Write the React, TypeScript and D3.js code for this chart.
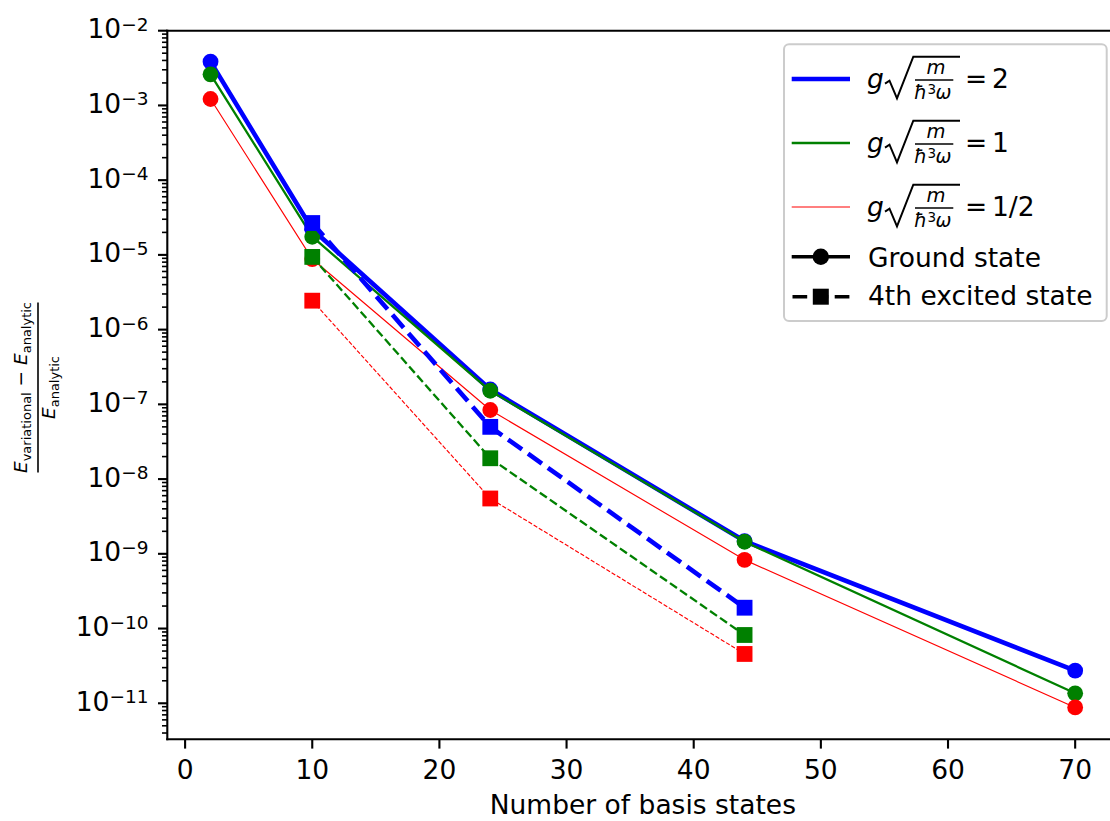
import React from "react";
import * as d3 from "d3";

const W = 1110;
const H = 821;

// Data
const xsGround = [2, 10, 24, 44, 70];
const xsExcited = [10, 24, 44];
const groundBlue = [3.85e-3, 2.2e-5, 1.58e-7, 1.48e-9, 2.73e-11];
const groundGreen = [2.61e-3, 1.75e-5, 1.52e-7, 1.45e-9, 1.36e-11];
const groundRed = [1.22e-3, 8.8e-6, 8.4e-8, 8.3e-10, 8.8e-12];
const excitedBlue = [2.67e-5, 5.0e-8, 1.9e-10];
const excitedGreen = [9.4e-6, 1.9e-8, 8.2e-11];
const excitedRed = [2.44e-6, 5.5e-9, 4.57e-11];
const xTicks = [0, 10, 20, 30, 40, 50, 60, 70];
const yExps = [-2, -3, -4, -5, -6, -7, -8, -9, -10, -11];
const legendValues = ["2", "1", "1/2"];

const FONT = "DejaVu Sans";
const FS = 26.5;

const L = 167.3, R = 1118.4, T = 30.7, B = 739.3;

const x = d3.scaleLinear().domain([-1.4, 73.4]).range([L, R]);
const y = d3.scaleLog().domain([Math.pow(10, -11.482), 1e-2]).range([B, T]);

const LW_B = 4.6, LW_G = 2.3, LW_R = 1.15;

const series = [
  { xs: xsGround, ys: groundBlue, color: "#0000ff", lw: LW_B, dashed: false },
  { xs: xsGround, ys: groundGreen, color: "#008000", lw: LW_G, dashed: false },
  { xs: xsGround, ys: groundRed, color: "#ff0000", lw: LW_R, dashed: false },
  { xs: xsExcited, ys: excitedBlue, color: "#0000ff", lw: LW_B, dashed: true },
  { xs: xsExcited, ys: excitedGreen, color: "#008000", lw: LW_G, dashed: true },
  { xs: xsExcited, ys: excitedRed, color: "#ff0000", lw: LW_R, dashed: true },
];

const legendLines = [
  { color: "#0000ff", lw: LW_B },
  { color: "#008000", lw: LW_G },
  { color: "#ff0000", lw: LW_R },
];

function LegendMath({ b, value }: { b: number; value: string }) {
  const it = { fontFamily: FONT, fontStyle: "italic" as const };
  return (
    <g>
      <text x={867} y={b} fontSize={FS} {...it}>g</text>
      <path
        d={`M885,${b - 4} L889.5,${b - 7} L897,${b + 10.6} L913.3,${b - 31} L960,${b - 31}`}
        fill="none"
        stroke="#000"
        strokeWidth={2}
      />
      <text x={936} y={b - 13.4} fontSize={19.5} textAnchor="middle" {...it}>m</text>
      <line x1={915} x2={953.3} y1={b - 7.7} y2={b - 7.7} stroke="#000" strokeWidth={1.6} />
      <text x={914} y={b + 11.3} fontSize={19} {...it}>ħ</text>
      <text x={927.5} y={b + 6.6} fontSize={13.5} fontFamily={FONT}>3</text>
      <text x={935.5} y={b + 11.3} fontSize={19} {...it}>ω</text>
      <text x={965} y={b} fontSize={FS} fontFamily={FONT}>=</text>
      <text x={992} y={b} fontSize={FS} fontFamily={FONT}>{value}</text>
    </g>
  );
}

export default function App() {
  const line = d3
    .line<[number, number]>()
    .x((d) => x(d[0]))
    .y((d) => y(d[1]));

  const minorTicks: number[] = [];
  for (let e = -12; e <= -3; e++) {
    for (let m = 2; m <= 9; m++) {
      const v = m * Math.pow(10, e);
      if (v >= y.domain()[0] && v <= y.domain()[1]) minorTicks.push(v);
    }
  }

  const sq = 15.8;
  const cr = 7.9;

  return (
    <svg
      width={W}
      height={H}
      style={{ position: "absolute", left: 0, top: 0, background: "#fff" }}
      fontFamily={FONT}
    >
      <rect x={0} y={0} width={W} height={H} fill="#fff" />

      {/* series */}
      {series.map((s, i) => {
        const pts = s.xs.map((xv, j) => [xv, s.ys[j]] as [number, number]);
        const dash = s.dashed ? `${3.7 * s.lw},${1.6 * s.lw}` : undefined;
        return (
          <g key={i}>
            <path
              d={line(pts) || ""}
              fill="none"
              stroke={s.color}
              strokeWidth={s.lw}
              strokeDasharray={dash}
              strokeLinejoin="round"
            />
            {pts.map((p, j) =>
              s.dashed ? (
                <rect
                  key={j}
                  x={x(p[0]) - sq / 2}
                  y={y(p[1]) - sq / 2}
                  width={sq}
                  height={sq}
                  fill={s.color}
                />
              ) : (
                <circle key={j} cx={x(p[0])} cy={y(p[1])} r={cr} fill={s.color} />
              )
            )}
          </g>
        );
      })}

      {/* spines */}
      <g stroke="#000" strokeWidth={2.1} strokeLinecap="square">
        <line x1={L} x2={L} y1={T} y2={B} />
        <line x1={L} x2={R} y1={B} y2={B} />
        <line x1={L} x2={R} y1={T} y2={T} />
        <line x1={R} x2={R} y1={T} y2={B} />
      </g>

      {/* x ticks */}
      {xTicks.map((t) => (
        <g key={t}>
          <line x1={x(t)} x2={x(t)} y1={B} y2={B + 9.3} stroke="#000" strokeWidth={2.1} />
          <text x={x(t)} y={779.3} fontSize={FS} textAnchor="middle">
            {t}
          </text>
        </g>
      ))}

      {/* y minor ticks */}
      {minorTicks.map((v, i) => (
        <line key={i} x1={L - 5.3} x2={L} y1={y(v)} y2={y(v)} stroke="#000" strokeWidth={1.6} />
      ))}

      {/* y major ticks */}
      {yExps.map((e) => {
        const yy = y(Math.pow(10, e));
        return (
          <g key={e}>
            <line x1={L - 9.3} x2={L} y1={yy} y2={yy} stroke="#000" strokeWidth={2.1} />
            <text x={148.5} y={yy + 7.6} fontSize={FS} textAnchor="end">
              10
              <tspan fontSize={18.5} dy={-7.6}>
                {"\u2212" + String(-e)}
              </tspan>
            </text>
          </g>
        );
      })}

      {/* x label */}
      <text x={(L + R) / 2} y={814} fontSize={FS} textAnchor="middle">
        Number of basis states
      </text>

      {/* y label */}
      <g transform="translate(38,387.5) rotate(-90)">
        <text x={0} y={-11} textAnchor="middle">
          <tspan fontSize={18.5} fontStyle="italic">E</tspan>
          <tspan fontSize={13} dy={3.5}>variational</tspan>
          <tspan fontSize={18.5} dy={-3.5}>{" \u2212 "}</tspan>
          <tspan fontSize={18.5} fontStyle="italic">E</tspan>
          <tspan fontSize={13} dy={3.5}>analytic</tspan>
        </text>
        <line x1={-85} x2={85} y1={0} y2={0} stroke="#000" strokeWidth={1.6} />
        <text x={0} y={17} textAnchor="middle">
          <tspan fontSize={18.5} fontStyle="italic">E</tspan>
          <tspan fontSize={13} dy={3.5}>analytic</tspan>
        </text>
      </g>

      {/* legend */}
      <rect
        x={784}
        y={44.3}
        width={322.7}
        height={276.7}
        rx={5}
        fill="#fff"
        fillOpacity={0.8}
        stroke="#cccccc"
        strokeWidth={2}
      />
      {legendLines.map((l, i) => {
        const b = 87.7 + 64 * i;
        return (
          <g key={i}>
            <line x1={791.7} x2={850} y1={b - 8.7} y2={b - 8.7} stroke={l.color} strokeWidth={l.lw} />
            <LegendMath b={b} value={legendValues[i]} />
          </g>
        );
      })}
      <line x1={791.7} x2={850} y1={256.7} y2={256.7} stroke="#000" strokeWidth={3.6} />
      <circle cx={820.8} cy={256.7} r={8.2} fill="#000" />
      <text x={868} y={267.3} fontSize={FS}>Ground state</text>
      <line
        x1={792.5}
        x2={850}
        y1={296.7}
        y2={296.7}
        stroke="#000"
        strokeWidth={3.6}
        strokeDasharray="14.7,6.4"
      />
      <rect x={820.8 - 8} y={296.7 - 8} width={16} height={16} fill="#000" />
      <text x={868} y={305} fontSize={FS}>4th excited state</text>
    </svg>
  );
}
